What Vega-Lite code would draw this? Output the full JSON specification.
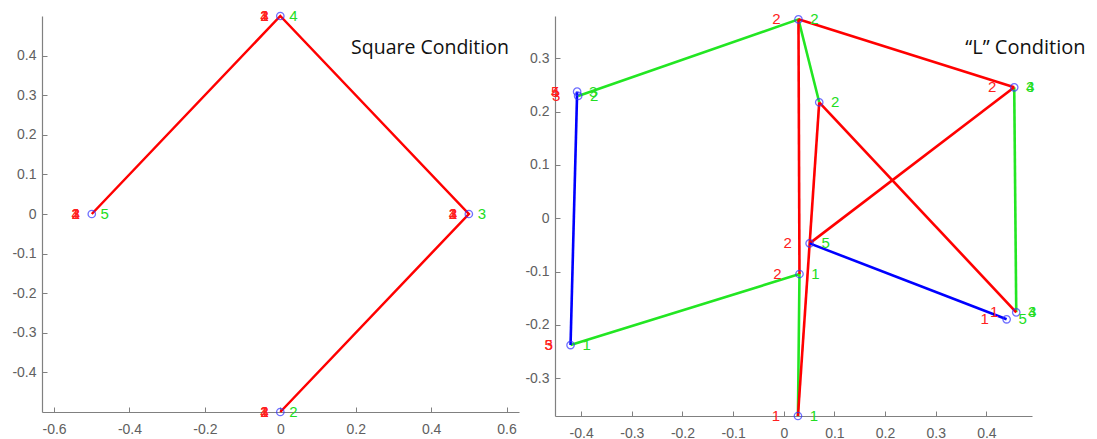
{
  "$schema": "https://vega.github.io/schema/vega-lite/v6.json",
  "background": "white",
  "padding": {"left": 11, "top": 9, "right": 5, "bottom": 5},
  "spacing": 36,
  "bounds": "flush",
  "config": {
    "view": {"stroke": null},
    "axis": {
      "domainColor": "#808080",
      "tickColor": "#808080",
      "labelColor": "#606060",
      "labelFont": "Liberation Sans",
      "labelFontSize": 14,
      "grid": false,
      "title": null,
      "tickSize": -5,
      "labelPadding": 11,
      "domainWidth": 1.2,
      "format": "~g",
      "labelExpr": "replace(datum.label, '\u2212', '-')"
    },
    "axisX": {"labelPadding": 15}
  },
  "datasets": {
    "sqPoints": [
      {"x": -0.5, "y": 0}, {"x": 0, "y": 0.5}, {"x": 0.5, "y": 0}, {"x": 0, "y": -0.5}
    ],
    "sqLines": [
      {"seg": "s1", "o": 1, "x": -0.5, "y": 0, "c": "red"},
      {"seg": "s1", "o": 2, "x": 0, "y": 0.5, "c": "red"},
      {"seg": "s1", "o": 3, "x": 0.5, "y": 0, "c": "red"},
      {"seg": "s1", "o": 4, "x": 0, "y": -0.5, "c": "red"}
    ],
    "sqLabels": [
      {"x": -0.5, "y": 0, "t": "1", "c": "red"}, {"x": -0.5, "y": 0, "t": "2", "c": "red"}, {"x": -0.5, "y": 0, "t": "3", "c": "red"}, {"x": -0.5, "y": 0, "t": "4", "c": "red"},
      {"x": 0, "y": 0.5, "t": "1", "c": "red"}, {"x": 0, "y": 0.5, "t": "2", "c": "red"}, {"x": 0, "y": 0.5, "t": "3", "c": "red"}, {"x": 0, "y": 0.5, "t": "4", "c": "red"},
      {"x": 0.5, "y": 0, "t": "1", "c": "red"}, {"x": 0.5, "y": 0, "t": "2", "c": "red"}, {"x": 0.5, "y": 0, "t": "3", "c": "red"}, {"x": 0.5, "y": 0, "t": "4", "c": "red"},
      {"x": 0, "y": -0.5, "t": "1", "c": "red"}, {"x": 0, "y": -0.5, "t": "2", "c": "red"}, {"x": 0, "y": -0.5, "t": "3", "c": "red"}, {"x": 0, "y": -0.5, "t": "4", "c": "red"},
      {"x": -0.5, "y": 0, "t": "5", "c": "green"},
      {"x": 0, "y": 0.5, "t": "4", "c": "green"},
      {"x": 0.5, "y": 0, "t": "3", "c": "green"},
      {"x": 0, "y": -0.5, "t": "2", "c": "green"}
    ],
    "sqTitle": [{"x": 0.1876, "y": 0.403, "t": "Square Condition"}],
    "lPoints": [
      {"x": 0.029, "y": 0.373}, {"x": 0.07, "y": 0.2175}, {"x": 0.455, "y": 0.2456},
      {"x": 0.459, "y": -0.1763}, {"x": 0.44, "y": -0.1894}, {"x": 0.051, "y": -0.047},
      {"x": 0.031, "y": -0.1045}, {"x": 0.028, "y": -0.3707}, {"x": -0.408, "y": 0.2375},
      {"x": -0.406, "y": 0.2294}, {"x": -0.421, "y": -0.2377}
    ],
    "lLines": [
      {"seg": "g1", "o": 1, "x": -0.406, "y": 0.2294, "c": "green"},
      {"seg": "g1", "o": 2, "x": 0.029, "y": 0.373, "c": "green"},
      {"seg": "g1", "o": 3, "x": 0.07, "y": 0.2175, "c": "green"},
      {"seg": "g2", "o": 1, "x": -0.421, "y": -0.2377, "c": "green"},
      {"seg": "g2", "o": 2, "x": 0.031, "y": -0.1045, "c": "green"},
      {"seg": "g2", "o": 3, "x": 0.028, "y": -0.3707, "c": "green"},
      {"seg": "g3", "o": 1, "x": 0.455, "y": 0.2456, "c": "green"},
      {"seg": "g3", "o": 2, "x": 0.459, "y": -0.1763, "c": "green"},
      {"seg": "r1", "o": 1, "x": 0.028, "y": -0.3707, "c": "red"},
      {"seg": "r1", "o": 2, "x": 0.07, "y": 0.2175, "c": "red"},
      {"seg": "r2", "o": 1, "x": 0.029, "y": 0.373, "c": "red"},
      {"seg": "r2", "o": 2, "x": 0.031, "y": -0.1045, "c": "red"},
      {"seg": "r3", "o": 1, "x": 0.029, "y": 0.373, "c": "red"},
      {"seg": "r3", "o": 2, "x": 0.455, "y": 0.2456, "c": "red"},
      {"seg": "r4", "o": 1, "x": 0.455, "y": 0.2456, "c": "red"},
      {"seg": "r4", "o": 2, "x": 0.051, "y": -0.047, "c": "red"},
      {"seg": "r5", "o": 1, "x": 0.07, "y": 0.2175, "c": "red"},
      {"seg": "r5", "o": 2, "x": 0.459, "y": -0.1763, "c": "red"},
      {"seg": "b1", "o": 1, "x": -0.408, "y": 0.2375, "c": "blue"},
      {"seg": "b1", "o": 2, "x": -0.421, "y": -0.2377, "c": "blue"},
      {"seg": "b2", "o": 1, "x": 0.051, "y": -0.047, "c": "blue"},
      {"seg": "b2", "o": 2, "x": 0.44, "y": -0.1894, "c": "blue"}
    ],
    "lLabels": [
      {"x": 0.029, "y": 0.373, "t": "2", "c": "red"},
      {"x": 0.455, "y": 0.2456, "t": "2", "c": "red"},
      {"x": 0.459, "y": -0.1763, "t": "1", "c": "red"},
      {"x": 0.44, "y": -0.1894, "t": "1", "c": "red"},
      {"x": 0.051, "y": -0.047, "t": "2", "c": "red"},
      {"x": 0.031, "y": -0.1045, "t": "2", "c": "red"},
      {"x": 0.028, "y": -0.3707, "t": "1", "c": "red"},
      {"x": -0.408, "y": 0.2375, "t": "4", "c": "red"},
      {"x": -0.408, "y": 0.2375, "t": "5", "c": "red"},
      {"x": -0.406, "y": 0.2294, "t": "3", "c": "red"},
      {"x": -0.421, "y": -0.2377, "t": "5", "c": "red"},
      {"x": -0.421, "y": -0.2377, "t": "3", "c": "red"},
      {"x": 0.029, "y": 0.373, "t": "2", "c": "green"},
      {"x": 0.07, "y": 0.2175, "t": "2", "c": "green"},
      {"x": 0.455, "y": 0.2456, "t": "3", "c": "green"},
      {"x": 0.455, "y": 0.2456, "t": "4", "c": "green"},
      {"x": 0.459, "y": -0.1763, "t": "3", "c": "green"},
      {"x": 0.459, "y": -0.1763, "t": "4", "c": "green"},
      {"x": 0.44, "y": -0.1894, "t": "5", "c": "green"},
      {"x": 0.051, "y": -0.047, "t": "5", "c": "green"},
      {"x": 0.031, "y": -0.1045, "t": "1", "c": "green"},
      {"x": 0.028, "y": -0.3707, "t": "1", "c": "green"},
      {"x": -0.408, "y": 0.2375, "t": "3", "c": "green"},
      {"x": -0.406, "y": 0.2294, "t": "2", "c": "green"},
      {"x": -0.421, "y": -0.2377, "t": "1", "c": "green"}
    ],
    "lTitle": [{"x": 0.3583, "y": 0.3075, "t": "\u201cL\u201d Condition"}]
  },
  "hconcat": [
    {
      "width": 477,
      "height": 396,
      "encoding": {
        "x": {"field": "x", "type": "quantitative", "scale": {"domain": [-0.632, 0.633], "nice": false, "zero": false}, "axis": {"values": [-0.6, -0.4, -0.2, 0, 0.2, 0.4, 0.6]}},
        "y": {"field": "y", "type": "quantitative", "scale": {"domain": [-0.5, 0.5], "nice": false, "zero": false}, "axis": {"values": [-0.4, -0.3, -0.2, -0.1, 0, 0.1, 0.2, 0.3, 0.4]}}
      },
      "layer": [
        {
          "data": {"name": "sqLines"},
          "mark": {"type": "line", "strokeWidth": 2.5},
          "encoding": {
            "detail": {"field": "seg"},
            "order": {"field": "o"},
            "color": {"field": "c", "type": "nominal", "scale": {"domain": ["red", "green", "blue"], "range": ["#ff0000", "#22e622", "#0000ff"]}, "legend": null}
          }
        },
        {
          "data": {"name": "sqPoints"},
          "mark": {"type": "point", "shape": "circle", "filled": false, "size": 55, "strokeWidth": 1.3, "color": "#3333ff"}
        },
        {
          "data": {"name": "sqLabels"},
          "transform": [{"filter": "datum.c == 'red'"}],
          "mark": {"type": "text", "dx": -16, "fontSize": 15, "font": "Liberation Sans", "color": "#ff2020"},
          "encoding": {"text": {"field": "t"}}
        },
        {
          "data": {"name": "sqLabels"},
          "transform": [{"filter": "datum.c == 'green'"}],
          "mark": {"type": "text", "dx": 13, "fontSize": 15, "font": "Liberation Sans", "color": "#22dd22"},
          "encoding": {"text": {"field": "t"}}
        },
        {
          "data": {"name": "sqTitle"},
          "mark": {"type": "text", "align": "left", "baseline": "alphabetic", "font": "Open Sans", "fontSize": 19.5, "color": "#111111"},
          "encoding": {"text": {"field": "t"}}
        }
      ]
    },
    {
      "width": 477,
      "height": 400,
      "encoding": {
        "x": {"field": "x", "type": "quantitative", "scale": {"domain": [-0.4517, 0.4901], "nice": false, "zero": false}, "axis": {"values": [-0.4, -0.3, -0.2, -0.1, 0, 0.1, 0.2, 0.3, 0.4]}},
        "y": {"field": "y", "type": "quantitative", "scale": {"domain": [-0.3707, 0.3793], "nice": false, "zero": false}, "axis": {"values": [-0.3, -0.2, -0.1, 0, 0.1, 0.2, 0.3]}}
      },
      "layer": [
        {
          "data": {"name": "lLines"},
          "mark": {"type": "line", "strokeWidth": 2.6},
          "encoding": {
            "detail": {"field": "seg"},
            "order": {"field": "o"},
            "color": {"field": "c", "type": "nominal", "scale": {"domain": ["red", "green", "blue"], "range": ["#ff0000", "#22e622", "#0000ff"]}, "legend": null}
          }
        },
        {
          "data": {"name": "lPoints"},
          "mark": {"type": "point", "shape": "circle", "filled": false, "size": 55, "strokeWidth": 1.3, "color": "#3333ff"}
        },
        {
          "data": {"name": "lLabels"},
          "transform": [{"filter": "datum.c == 'red'"}],
          "mark": {"type": "text", "dx": -22, "fontSize": 15, "font": "Liberation Sans", "color": "#ff2020"},
          "encoding": {"text": {"field": "t"}}
        },
        {
          "data": {"name": "lLabels"},
          "transform": [{"filter": "datum.c == 'green'"}],
          "mark": {"type": "text", "dx": 16, "fontSize": 15, "font": "Liberation Sans", "color": "#22dd22"},
          "encoding": {"text": {"field": "t"}}
        },
        {
          "data": {"name": "lTitle"},
          "mark": {"type": "text", "align": "left", "baseline": "alphabetic", "font": "Open Sans", "fontSize": 20, "color": "#111111"},
          "encoding": {"text": {"field": "t"}}
        }
      ]
    }
  ]
}
